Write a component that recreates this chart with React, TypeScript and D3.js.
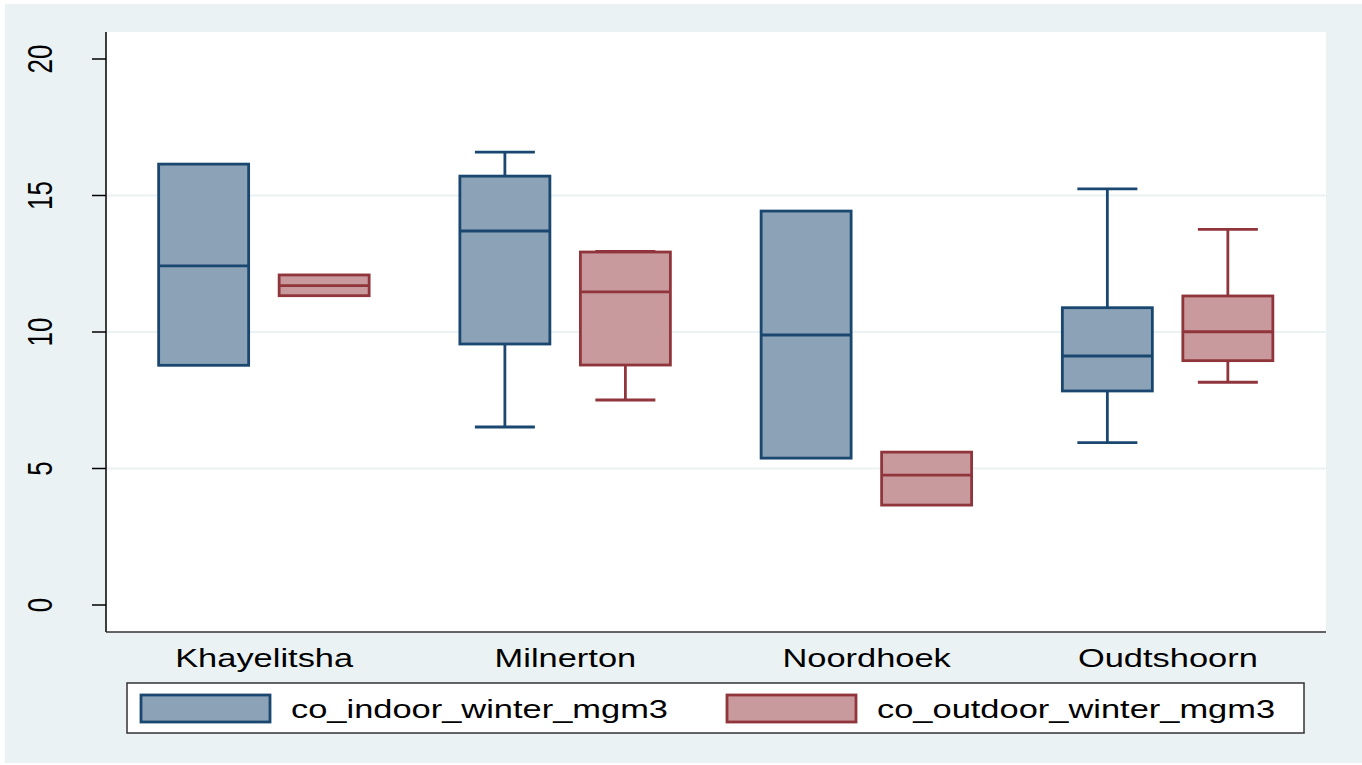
import React from "react";
import * as d3 from "d3";

const categories = ["Khayelitsha", "Milnerton", "Noordhoek", "Oudtshoorn"];
const seriesNames = ["co_indoor_winter_mgm3", "co_outdoor_winter_mgm3"];
// [lowerWhisker, q1, median, q3, upperWhisker]
const indoorStats = [
  [8.78, 8.78, 12.42, 16.15, 16.15],
  [6.52, 9.56, 13.7, 15.71, 16.59],
  [5.38, 5.38, 9.89, 14.43, 14.43],
  [5.95, 7.84, 9.12, 10.89, 15.24],
];
const outdoorStats = [
  [11.33, 11.33, 11.7, 12.09, 12.09],
  [7.51, 8.79, 11.47, 12.93, 12.95],
  [3.66, 3.66, 4.76, 5.6, 5.6],
  [8.16, 8.95, 10.01, 11.32, 13.76],
];
const yTicks = [0, 5, 10, 15, 20];
const gridTicks = [5, 10, 15];

const W = 1362;
const H = 765;
const plot = { left: 106, right: 1326, top: 32, bottom: 632 };
const SX = 1.325;
const FS = 26;

const colors = [
  { stroke: "#1A476F", fill: "#8CA3B7" },
  { stroke: "#90353B", fill: "#C89A9D" },
];

export default function App() {
  const y = d3.scaleLinear().domain([0, 20]).range([605, 59]);
  const x = d3.scalePoint<string>().domain(categories).range([plot.left, plot.right]).padding(0.525);
  const inner = d3.scalePoint<string>().domain(seriesNames).range([-60.5, 60]);
  const boxW = 90;
  const capW = 60;
  const all = [indoorStats, outdoorStats];

  return (
    <div style={{ position: "absolute", left: 0, top: 0 }}>
      <svg width={W} height={H} style={{ display: "block" }} fontFamily="'Liberation Sans', Arial, sans-serif">
        <rect x={0} y={0} width={W} height={H} fill="#ffffff" />
        <rect x={5} y={4} width={W - 5} height={759} fill="#EAF2F3" />
        <rect x={plot.left} y={plot.top} width={plot.right - plot.left} height={plot.bottom - plot.top} fill="#ffffff" />
        {gridTicks.map((t) => (
          <line key={t} x1={plot.left} x2={plot.right} y1={y(t)} y2={y(t)} stroke="#EAF2F3" strokeWidth={2} />
        ))}
        {all.map((stats, si) =>
          stats.map((s, ci) => {
            const cx = (x(categories[ci]) as number) + (inner(seriesNames[si]) as number);
            const c = colors[si];
            const [lo, q1, med, q3, hi] = s;
            return (
              <g key={`${si}-${ci}`} stroke={c.stroke} strokeWidth={2.8}>
                {hi > q3 && (
                  <>
                    <line x1={cx} x2={cx} y1={y(q3)} y2={y(hi)} />
                    <line x1={cx - capW / 2} x2={cx + capW / 2} y1={y(hi)} y2={y(hi)} />
                  </>
                )}
                {lo < q1 && (
                  <>
                    <line x1={cx} x2={cx} y1={y(q1)} y2={y(lo)} />
                    <line x1={cx - capW / 2} x2={cx + capW / 2} y1={y(lo)} y2={y(lo)} />
                  </>
                )}
                <rect x={cx - boxW / 2} y={y(q3)} width={boxW} height={y(q1) - y(q3)} fill={c.fill} />
                <line x1={cx - boxW / 2} x2={cx + boxW / 2} y1={y(med)} y2={y(med)} />
              </g>
            );
          })
        )}
        <line x1={plot.left} x2={plot.left} y1={plot.top} y2={plot.bottom} stroke="#000" strokeWidth={1.5} />
        <line x1={plot.left} x2={plot.right} y1={plot.bottom} y2={plot.bottom} stroke="#333" strokeWidth={1.5} />
        {yTicks.map((t) => (
          <g key={t}>
            <line x1={92} x2={plot.left} y1={y(t)} y2={y(t)} stroke="#000" strokeWidth={1.5} />
            <text
              transform={`translate(52,${y(t)}) scale(${SX},1) rotate(-90)`}
              textAnchor="middle"
              fontSize={FS}
              fill="#000"
            >
              {t}
            </text>
          </g>
        ))}
        {categories.map((c) => (
          <text
            key={c}
            transform={`translate(${x(c)},667) scale(${SX},1)`}
            textAnchor="middle"
            fontSize={FS}
            fill="#000"
          >
            {c}
          </text>
        ))}
        <rect x={127} y={683} width={1304 - 127} height={50} fill="#ffffff" stroke="#333" strokeWidth={1.5} />
        {seriesNames.map((n, i) => {
          const kx = [141, 727][i];
          const tx = [291, 877][i];
          return (
            <g key={n}>
              <rect x={kx} y={695} width={129} height={27} fill={colors[i].fill} stroke={colors[i].stroke} strokeWidth={2.8} />
              <text transform={`translate(${tx},718) scale(${SX},1)`} fontSize={FS} fill="#000">
                {n}
              </text>
            </g>
          );
        })}
      </svg>
    </div>
  );
}
